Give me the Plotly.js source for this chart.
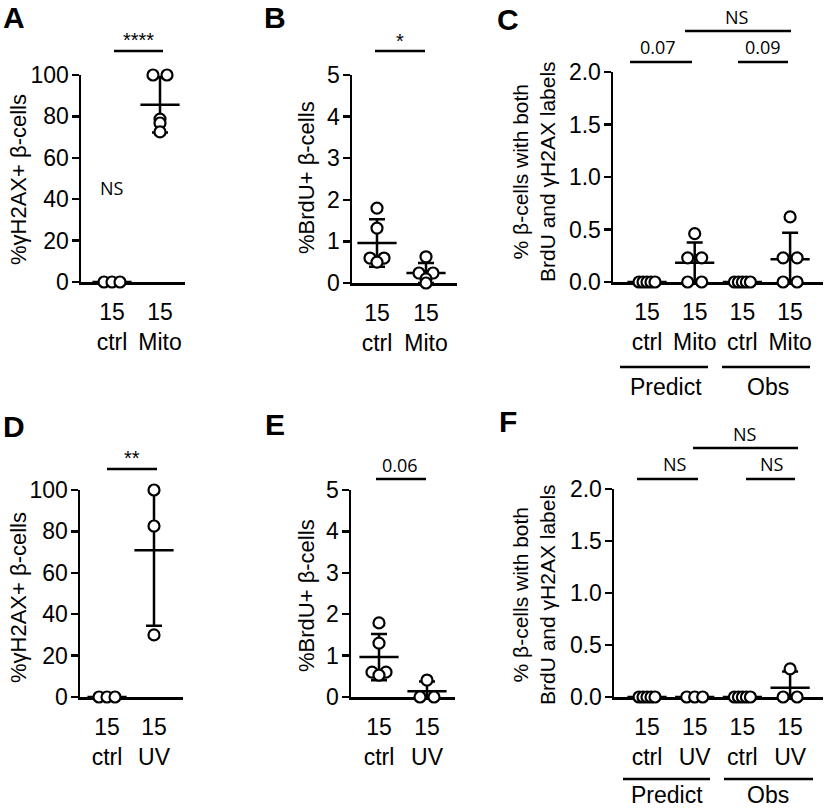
<!DOCTYPE html>
<html><head><meta charset="utf-8">
<script src="https://cdn.plot.ly/plotly-3.0.1.min.js"></script>
<style>html,body{margin:0;padding:0;background:#fff}#chart{width:825px;height:809px}</style>
</head><body><div id="chart"></div>
<script>
// ---------- data ----------
const catsA = ['15<br>ctrl', '15<br>Mito'];
const A_ctrl = [0, 0, 0];
const A_mito = [100, 100, 78.7, 76.8, 72.5];

const catsB = ['15<br>ctrl', '15<br>Mito'];
const B_ctrl = [1.8, 1.32, 0.6, 0.6, 0.5];
const B_mito = [0.63, 0.24, 0.24, 0.1, 0];

const catsC = ['15<br>ctrl', '15<br>Mito', '15<br>ctrl', '15<br>Mito'];
const C_predCtrl = [0, 0, 0, 0, 0];
const C_predMito = [0.46, 0.23, 0.23, 0, 0];
const C_obsCtrl = [0, 0, 0, 0, 0];
const C_obsMito = [0.62, 0.23, 0.23, 0, 0];

const catsD = ['15<br>ctrl', '15<br>UV'];
const D_ctrl = [0, 0, 0];
const D_uv = [100, 82.6, 30];

const catsE = ['15<br>ctrl', '15<br>UV'];
const E_ctrl = [1.79, 1.3, 0.6, 0.6, 0.53];
const E_uv = [0.41, 0, 0];

const catsF = ['15<br>ctrl', '15<br>UV', '15<br>ctrl', '15<br>UV'];
const F_predCtrl = [0, 0, 0, 0, 0];
const F_predUv = [0, 0, 0];
const F_obsCtrl = [0, 0, 0, 0, 0];
const F_obsUv = [0.27, 0, 0];

const groupLabels = ['Predict', 'Obs'];
const panelLetters = ['A', 'B', 'C', 'D', 'E', 'F'];
const yTitleAD = '%γH2AX+ β-cells';
const yTitleBE = '%BrdU+ β-cells';
const yTitleCF = '% β-cells with both<br>BrdU and γH2AX labels';
const sigA = ['****', 'NS'];
const sigB = ['*'];
const sigC = ['0.07', '0.09', 'NS'];
const sigD = ['**'];
const sigE = ['0.06'];
const sigF = ['NS', 'NS', 'NS'];

// ---------- layout helpers ----------
const W = 825, H = 809;
const px = x => x / W;
const py = y => 1 - y / H;
const FONT = 'Arial, "Liberation Sans", sans-serif';
const SIGFONT = '"Open Sans", "Noto Sans", sans-serif';

const panels = [
  {xd: [81, 185], yd: [75, 282], c0: 112, ppu: 48, yr: [0, 100], dt: 20, fmt: 'd', cats: catsA, groups: [A_ctrl, A_mito]},
  {xd: [352, 457], yd: [75, 283], c0: 377, ppu: 49, yr: [0, 5], dt: 1, fmt: 'd', cats: catsB, groups: [B_ctrl, B_mito]},
  {xd: [613, 823], yd: [72, 282], c0: 647, ppu: 47.7, yr: [0, 2], dt: 0.5, fmt: '.1f', cats: catsC, groups: [C_predCtrl, C_predMito, C_obsCtrl, C_obsMito]},
  {xd: [80, 183], yd: [490, 697], c0: 107, ppu: 47, yr: [0, 100], dt: 20, fmt: 'd', cats: catsD, groups: [D_ctrl, D_uv]},
  {xd: [351, 455], yd: [490, 697], c0: 379, ppu: 48, yr: [0, 5], dt: 1, fmt: 'd', cats: catsE, groups: [E_ctrl, E_uv]},
  {xd: [614, 823], yd: [489, 697], c0: 647, ppu: 47.7, yr: [0, 2], dt: 0.5, fmt: '.1f', cats: catsF, groups: [F_predCtrl, F_predUv, F_obsCtrl, F_obsUv]}
];

function mean(a) { return a.reduce((s, v) => s + v, 0) / a.length; }
function sd(a) { const m = mean(a); return Math.sqrt(a.reduce((s, v) => s + (v - m) * (v - m), 0) / (a.length - 1)); }

// deterministic horizontal spread for identical values (px)
function spread(vals) {
  const out = new Array(vals.length).fill(0);
  const groups = {};
  vals.forEach((v, i) => { const k = v.toFixed(6); (groups[k] = groups[k] || []).push(i); });
  Object.values(groups).forEach(idx => {
    const n = idx.length;
    if (n < 2) return;
    const step = Math.min(14, 16 / (n - 1));
    idx.forEach((i, j) => { out[i] = (j - (n - 1) / 2) * step; });
  });
  return out;
}

const data = [];
const layout = {
  width: W, height: H, margin: {l: 0, r: 0, t: 0, b: 0},
  paper_bgcolor: '#fff', plot_bgcolor: 'rgba(0,0,0,0)', showlegend: false,
  annotations: [], shapes: []
};

panels.forEach((p, k) => {
  const n = k === 0 ? '' : String(k + 1);
  const xa = 'x' + n, ya = 'y' + n;
  const idx = p.cats.map((c, i) => i);
  layout['xaxis' + n] = {
    domain: [px(p.xd[0]), px(p.xd[1])], anchor: ya,
    range: [(p.xd[0] - p.c0) / p.ppu, (p.xd[1] - p.c0) / p.ppu],
    tickvals: idx, ticktext: p.cats, ticks: '', ticklabelstandoff: 8, showgrid: false, zeroline: false,
    showline: true, linecolor: '#000', linewidth: 2.5, layer: 'below traces',
    tickfont: {family: FONT, size: 23, color: '#000'}, fixedrange: true
  };
  layout['yaxis' + n] = {
    domain: [py(p.yd[1]), py(p.yd[0])], anchor: xa, range: p.yr,
    dtick: p.dt, tick0: 0, tickformat: p.fmt, ticks: 'outside', ticklen: 7, tickwidth: 2.5,
    ticklabelstandoff: -2,
    tickcolor: '#000', showgrid: false, zeroline: false, showline: true, linecolor: '#000',
    linewidth: 2.5, layer: 'below traces', tickfont: {family: FONT, size: 23, color: '#000'}, fixedrange: true
  };
  // mean ± SD
  data.push({
    type: 'scatter', mode: 'markers', xaxis: xa, yaxis: ya, cliponaxis: false, hoverinfo: 'skip',
    x: idx, y: p.groups.map(mean),
    marker: {symbol: 'line-ew', size: 28, color: '#000', line: {color: '#000', width: 2.5}},
    error_y: {type: 'data', array: p.groups.map(sd), visible: true, color: '#000', thickness: 2.5, width: 8}
  });
  // points
  const xs = [], ys = [];
  p.groups.forEach((g, i) => {
    const off = spread(g);
    g.forEach((v, j) => { xs.push(i + off[j] / p.ppu); ys.push(v); });
  });
  data.push({
    type: 'scatter', mode: 'markers', xaxis: xa, yaxis: ya, cliponaxis: false,
    x: xs, y: ys,
    marker: {symbol: 'circle', size: 11, color: '#fff', line: {color: '#000', width: 2.2}}
  });
});

// ---------- annotations & shapes ----------
const A = layout.annotations, S = layout.shapes;
function txt(t, x, y, size, fam, extra) {
  A.push(Object.assign({text: t, x: px(x), y: py(y), xref: 'paper', yref: 'paper', showarrow: false,
    xanchor: 'center', yanchor: 'middle', font: {family: fam || FONT, size: size, color: '#000'}}, extra || {}));
}
function hline(x0, x1, y) {
  S.push({type: 'line', xref: 'paper', yref: 'paper', x0: px(x0), x1: px(x1), y0: py(y), y1: py(y),
    line: {color: '#000', width: 2.5}});
}
// panel letters
[[14, 18], [275, 18], [508, 20], [14, 426], [275, 424], [508, 422]].forEach((c, i) =>
  txt('<b>' + panelLetters[i] + '</b>', c[0], c[1], 30, FONT));
// y titles
txt(yTitleAD, 18, 180, 22, FONT, {textangle: -90});
txt(yTitleBE, 306, 178, 22, FONT, {textangle: -90});
txt(yTitleCF, 534, 172, 21, FONT, {textangle: -90});
txt(yTitleAD, 18, 598, 22, FONT, {textangle: -90});
txt(yTitleBE, 306, 596, 22, FONT, {textangle: -90});
txt(yTitleCF, 534, 595, 21, FONT, {textangle: -90});
// significance A
hline(114, 163, 51); txt(sigA[0], 138, 40, 20, FONT);
txt(sigA[1], 112, 188, 18, SIGFONT);
// B
hline(375, 425, 51); txt(sigB[0], 400, 41, 20, FONT);
// C
hline(630, 692, 62); txt(sigC[0], 658, 47, 18, SIGFONT);
hline(738, 788, 62); txt(sigC[1], 763, 47, 18, SIGFONT);
hline(685, 791, 31); txt(sigC[2], 737, 17, 18, SIGFONT);
// D
hline(107, 157, 469); txt(sigD[0], 132, 458, 20, FONT);
// E
hline(376, 426, 479); txt(sigE[0], 400, 465, 18, SIGFONT);
// F
hline(637, 698, 479); txt(sigF[0], 675, 464, 18, SIGFONT);
hline(746, 795, 479); txt(sigF[1], 772, 464, 18, SIGFONT);
hline(693, 798, 448); txt(sigF[2], 745, 434, 18, SIGFONT);
// group labels
hline(620, 708, 367); hline(722, 810, 367);
txt(groupLabels[0], 666, 387, 23, FONT); txt(groupLabels[1], 768, 387, 23, FONT);
hline(623, 710, 779); hline(724, 813, 779);
txt(groupLabels[0], 667, 795, 23, FONT); txt(groupLabels[1], 768, 795, 23, FONT);

Plotly.newPlot('chart', data, layout, {staticPlot: true, displayModeBar: false});
</script>
</body></html>
